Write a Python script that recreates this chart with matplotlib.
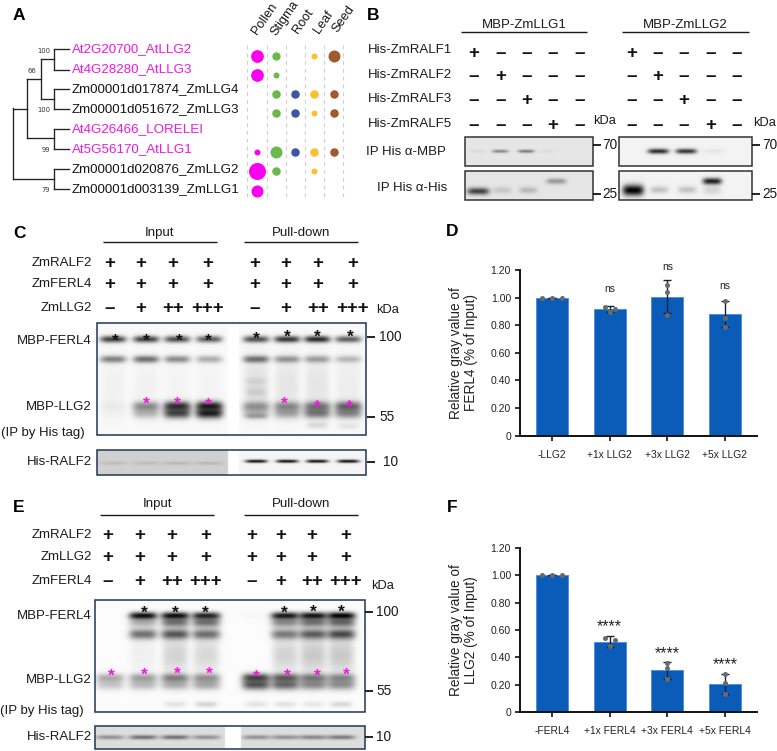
import numpy as np
import matplotlib
matplotlib.use("Agg")
import matplotlib.pyplot as plt

plt.rcParams["font.family"] = ["Liberation Sans", "DejaVu Sans"]

W, H = 777, 751
NAVY = "#1F3657"
MAGENTA = "#F016E6"
BAR = "#0A5CB8"
BAR_EDGE = "#4F93DC"
DOT = "#6A6A6A"

# ── Panel A ───────────────────────────────────────────────────────────────────
GENES = ["At2G20700_AtLLG2", "At4G28280_AtLLG3", "Zm00001d017874_ZmLLG4",
         "Zm00001d051672_ZmLLG3", "At4G26466_LORELEI", "At5G56170_AtLLG1",
         "Zm00001d020876_ZmLLG2", "Zm00001d003139_ZmLLG1"]
GENE_IS_AT = [True, True, False, False, True, True, False, False]
TISSUES = ["Pollen", "Stigma", "Root", "Leaf", "Seed"]
TISSUE_COLORS = ["#FB00F0", "#6CB84C", "#3E55A6", "#FBC02D", "#A15A2B"]
BUBBLES = [[12.7, 8.3, 0, 6, 12],
           [12.7, 6, 0, 0, 0],
           [0, 8.5, 8.5, 8.5, 8.5],
           [0, 8.5, 8.5, 6, 8.5],
           [0, 0, 0, 0, 0],
           [6, 12, 8.5, 8.5, 8.5],
           [17, 8.5, 0, 6, 0],
           [12, 0, 0, 0, 0]]

# ── Panel B ───────────────────────────────────────────────────────────────────
B_ROWS = ["His-ZmRALF1", "His-ZmRALF2", "His-ZmRALF3", "His-ZmRALF5"]
B_SIGNS = [["+", "–", "–", "–", "–"],
           ["–", "+", "–", "–", "–"],
           ["–", "–", "+", "–", "–"],
           ["–", "–", "–", "+", "–"]]
B1_MBP = [0.05, 0.42, 0.48, 0.04, 0]
B1_HIS = [0.72, 0.14, 0.2, 0.34, 0]
B2_MBP = [0, 0.82, 0.78, 0.05, 0]
B2_HIS = [1.0, 0.2, 0.2, 0.88, 0]

# ── Panel C ───────────────────────────────────────────────────────────────────
C_ROWS = ["ZmRALF2", "ZmFERL4", "ZmLLG2"]
C_SIGNS = [["+"] * 8,
           ["+"] * 8,
           ["–", "+", "++", "+++", "–", "+", "++", "+++"]]
C_100 = [0.74, 0.74, 0.68, 0.62, 0.68, 0.78, 0.84, 0.62]
C_2ND = [0.48, 0.55, 0.44, 0.3, 0.55, 0.4, 0.36, 0.25]
C_LLG_UP = [0.04, 0.42, 0.8, 0.88, 0.38, 0.42, 0.5, 0.58]
C_LLG_LOW = [0.02, 0.25, 0.72, 0.88, 0.22, 0.32, 0.5, 0.45]
C_HAZE = [0.03, 0.03, 0.02, 0.02, 0.1, 0.08, 0.08, 0.05]
C_HIS = [0.1, 0.1, 0.13, 0.12, 0.95, 0.95, 0.95, 0.95]

# ── Panel E ───────────────────────────────────────────────────────────────────
E_ROWS = ["ZmRALF2", "ZmLLG2", "ZmFERL4"]
E_SIGNS = [["+"] * 8,
           ["+"] * 8,
           ["–", "+", "++", "+++", "–", "+", "++", "+++"]]
E_100 = [0, 0.95, 0.95, 0.85, 0.02, 0.9, 0.92, 1.0]
E_TAIL = [0, 0.3, 0.55, 0.55, 0, 0.45, 0.55, 0.6]
E_2ND = [0, 0.55, 0.65, 0.55, 0, 0.5, 0.62, 0.7]
E_SMEAR = [0, 0.05, 0.16, 0.14, 0, 0.16, 0.2, 0.2]
E_LLG_UP = [0.3, 0.34, 0.46, 0.38, 0.72, 0.6, 0.48, 0.42]
E_LLG_LOW = [0.2, 0.25, 0.3, 0.32, 0.66, 0.58, 0.44, 0.42]
E_LOW = [0, 0, 0.1, 0.16, 0.1, 0.1, 0.08, 0.14]
E_HIS = [0.35, 0.5, 0.5, 0.35, 0.35, 0.35, 0.4, 0.45]

# ── Panels D and F ────────────────────────────────────────────────────────────
D_LABELS = ["-LLG2", "+1x LLG2", "+3x LLG2", "+5x LLG2"]
D_MEANS = [1.0, 0.915, 1.005, 0.88]
D_ERR = [0, 0.022, 0.12, 0.095]
D_DOTS = [[1.0, 1.0, 1.0], [0.935, 0.895, 0.915], [0.875, 1.09, 1.04], [0.855, 0.975, 0.79]]
D_NOTES = ["", "ns", "ns", "ns"]
D_NOTE_Y = [0, 1.06, 1.225, 1.085]

F_LABELS = ["-FERL4", "+1x FERL4", "+3x FERL4", "+5x FERL4"]
F_MEANS = [1.0, 0.515, 0.305, 0.205]
F_ERR = [0, 0.04, 0.06, 0.075]
F_DOTS = [[1.0, 1.0, 1.0], [0.545, 0.48, 0.53], [0.36, 0.32, 0.24], [0.28, 0.21, 0.13]]
F_NOTES = ["", "****", "****", "****"]
F_NOTE_Y = [0, 0.628, 0.428, 0.348]
Y_TICKS = [0, 0.2, 0.4, 0.6, 0.8, 1.0, 1.2]
Y_TICK_LABELS = ["0", "0.20", "0.40", "0.60", "0.80", "1.00", "1.20"]

fig = plt.figure(figsize=(W / 100, H / 100), dpi=100)
ax = fig.add_axes([0, 0, 1, 1])
ax.axis("off")


def label(x, y, s, size=9.5, ha="center", color="#1a1a1a", **kw):
    ax.text(x, y, s, fontsize=size, ha=ha, va="center", color=color, **kw)


def sign(x, y, s):
    # + and – sit about a third of an em above the baseline
    ax.text(x, y + 6.2, s, fontsize=13.5, ha="center", va="baseline", color="#111111", fontweight="bold")


def star(x, y, color="#111111"):
    ax.text(x, y + 10.5, "*", fontsize=12.5, ha="center", va="baseline", color=color, fontweight="bold")


def header(x0, x1, y_line, y_text, s):
    ax.plot([x0, x1], [y_line, y_line], color="#1a1a1a", lw=1.0, solid_capstyle="butt")
    label((x0 + x1) / 2, y_text, s)


def kda_tick(x0, y, s, text_x):
    ax.plot([x0, x0 + 8], [y, y], color="#111111", lw=1.3, solid_capstyle="butt")
    label(text_x, y, s, size=9.8, ha="left")


def row(lanes, y, hw, ht, darks):
    return [(x, y, hw, ht, d) for x, d in zip(lanes, darks)]


def blot(x0, x1, y0, y1, bands, bg=0.98, gap=None, bg2=None, edge=NAVY, spread=1.3):
    xs = np.arange(x0, x1, 0.5)
    ys = np.arange(y0, y1, 0.5)
    X, Y = np.meshgrid(xs, ys)
    keep = np.ones_like(X)
    for bx, by, hw, ht, d in bands:
        keep *= 1 - d * np.exp(-((X - bx) / hw) ** 4 - ((Y - by) / (ht * spread)) ** 2)
    base = np.full_like(X, bg)
    if bg2 is not None:
        base[X >= gap[0]] = bg2
    img = base * keep
    if gap is not None:
        img[(X >= gap[0]) & (X < gap[1])] = 1.0
    ax.imshow(img, cmap="gray", vmin=0, vmax=1, extent=(x0, x1, y1, y0), aspect="auto",
              interpolation="bilinear", zorder=1)
    ax.add_patch(plt.Rectangle((x0, y0), x1 - x0, y1 - y0, fill=False, ec=edge, lw=1.1, zorder=2))


# ── A: tree, labels and bubbles ───────────────────────────────────────────────
label(19, 15, "A", size=12.5, fontweight="bold", color="black")
row_y = [49.3, 69.5, 89.3, 109.3, 129.3, 149.3, 169.3, 189.3]
for g, at, y in zip(GENES, GENE_IS_AT, row_y):
    label(72, y, g, size=9.6, ha="left", color=MAGENTA if at else "#151515")

tree = [[(13, 108), (13, 179)], [(13, 109), (27, 109)], [(27, 79), (27, 138)],
        [(27, 79), (41, 79)], [(41, 59), (41, 99)], [(41, 59), (54, 59)],
        [(41, 99), (54, 99)], [(27, 138), (54, 138)], [(13, 179), (54, 179)]]
for (a, b) in [(49.3, 69.5), (89.3, 109.3), (129.3, 149.3), (169.3, 189.3)]:
    tree += [[(54, a), (54, b)], [(54, a), (69, a)], [(54, b), (69, b)]]
for seg in tree:
    ax.plot(*zip(*seg), color="#222222", lw=0.95, solid_capstyle="projecting")
for x, y, s in [(44, 51, "100"), (31.5, 71, "66"), (44, 110, "100"), (45.5, 150, "99"), (45.5, 190, "79")]:
    ax.text(x, y, s, fontsize=4.9, ha="center", va="center", color="#333333", family="DejaVu Sans")

for x in [247, 267, 286, 305, 324, 343]:
    ax.plot([x, x], [45, 198], color="#CFCFCF", lw=0.8, ls=(0, (3.5, 3.5)), zorder=1)
cols_x = [256.7, 275.7, 295, 314, 334]
rows_y = [55.7, 74.7, 94, 113, 132.5, 151.7, 171, 190.5]
for i, vals in enumerate(BUBBLES):
    for j, d in enumerate(vals):
        if d > 0:
            ax.scatter(cols_x[j], rows_y[i], s=(d * 0.72) ** 2, color=TISSUE_COLORS[j], lw=0, zorder=3)
for t, x, y in zip(TISSUES, [257, 276, 298, 318.5, 337.5], [35, 36.5, 34, 34, 33]):
    ax.text(x, y, t, fontsize=9.2, rotation=55, rotation_mode="anchor", ha="left", va="baseline", color="#151515")

# ── B: RALF binding blots ─────────────────────────────────────────────────────
label(373, 15, "B", size=12.5, fontweight="bold", color="black")
header(461, 587, 32, 25, "MBP-ZmLLG1")
header(622, 749, 32, 25, "MBP-ZmLLG2")
b_lanes1 = [474, 501, 527, 553, 580]
b_lanes2 = [632, 658, 684, 711, 737]
b_y = [52, 75, 98.5, 124]
for name, y, signs in zip(B_ROWS, [50, 75, 99, 124], B_SIGNS):
    label(368, y, name, ha="left")
    for x, s, in zip(b_lanes1, signs):
        sign(x, b_y[B_ROWS.index(name)], s)
    for x, s, in zip(b_lanes2, signs):
        sign(x, b_y[B_ROWS.index(name)], s)
label(605, 121, "kDa", size=9.3)
label(765, 123, "kDa", size=9.3)
label(446, 152, "IP His α-MBP", ha="right")
label(447, 188, "IP His α-His", ha="right")

b1_up_x = [477, 500, 526, 546, 580]
b1_low_x = [478, 502, 528, 556, 580]
b2_up_x = [634, 658, 686, 713, 737]
b2_low_x = [633, 659, 687, 712, 737]
blot(465, 593, 137, 166, row(b1_up_x, 151, 8, 1.6, B1_MBP), bg=0.90, edge="#333333", spread=1.0)
blot(465, 593, 171, 200, row(b1_low_x[:1], 191, 11, 3.2, B1_HIS[:1]) + row(b1_low_x[1:], 190, 9, 3, B1_HIS[1:3] + [0])
     + row(b1_low_x[3:4], 181, 10, 2.6, B1_HIS[3:4]), bg=0.90, edge="#333333", spread=1.1)
blot(619, 752, 137, 166, row(b2_up_x, 151, 10.5, 2.3, B2_MBP), bg=0.95, edge="#333333", spread=1.1)
blot(619, 752, 171, 200, row(b2_low_x[:1], 190, 10.5, 5, B2_HIS[:1]) + row(b2_low_x[1:3], 189.5, 9, 3.2, B2_HIS[1:3])
     + row(b2_low_x[3:4], 181, 9.5, 3, B2_HIS[3:4]) + row(b2_low_x[3:4], 190, 9, 4, [0.12]), bg=0.95, edge="#333333", spread=1.1)
kda_tick(593, 145, "70", 602)
kda_tick(593, 194, "25", 602)
kda_tick(752, 145, "70", 762)
kda_tick(752, 194, "25", 762)

# ── C: FERL4 pull-down with LLG2 titration ────────────────────────────────────
label(19, 233, "C", size=12.5, fontweight="bold", color="black")
header(103, 217, 242, 233, "Input")
header(244, 358, 242, 233, "Pull-down")
c_lanes = [110, 141, 173, 208, 255, 286, 318, 353]
for name, y, signs in zip(C_ROWS, [263, 284, 308], C_SIGNS):
    label(92, y, name, ha="right")
    for x, s in zip(c_lanes, signs):
        sign(x, y - 1, s)
label(388, 310, "kDa", size=9.3)
label(92, 341, "MBP-FERL4", ha="right")
label(92, 407, "MBP-LLG2", ha="right")
label(1, 433, "(IP by His tag)", ha="left")
label(92, 462, "His-RALF2", ha="right")

c_x = [113, 146, 177, 209, 256, 287, 317, 348]
c_bands = (row(c_x, 339, 13, 2.6, C_100) + row(c_x, 359, 13, 2.8, C_2ND)
           + row(c_x, 385, 12, 22, C_HAZE)
           + row(c_x, 406, 13.5, 3.8, C_LLG_UP) + row(c_x, 413, 13.5, 4, C_LLG_LOW)
           + [(256, 381, 11, 2.5, 0.08), (256, 392, 11, 3.5, 0.1), (256, 416, 11, 2, 0.25),
              (317, 425, 11, 2.4, 0.12), (348, 426, 11, 2.4, 0.08)])
blot(97, 366, 323, 435, c_bands, bg=0.975, gap=(228, 239))
c_his = row(c_x[:4], 463, 14, 1.8, C_HIS[:4]) + row(c_x[4:], 461, 11, 1.6, C_HIS[4:])
blot(97, 366, 450, 475, c_his, bg=0.82, gap=(228, 239), bg2=0.96, spread=1.0)
for x, y in [(115, 335), (146, 335), (179, 335), (208, 335), (256, 333), (287, 331), (317, 331), (350, 331)]:
    star(x, y)
for x, y in [(146, 398), (177, 398), (208, 399), (284, 398), (317, 401), (349, 401)]:
    star(x, y, MAGENTA)
kda_tick(367, 337, "100", 379)
kda_tick(367, 417, "55", 379)
kda_tick(367, 462, "10", 383)

# ── E: LLG2 pull-down with FERL4 titration ────────────────────────────────────
label(19, 507, "E", size=12.5, fontweight="bold", color="black")
header(100, 214, 514.5, 504, "Input")
header(244, 358, 514.5, 504, "Pull-down")
e_lanes = [108, 140, 172, 206, 252, 281, 312, 346]
for name, y, signs in zip(E_ROWS, [535, 557, 581], E_SIGNS):
    label(92, y, name, ha="right")
    for x, s in zip(e_lanes, signs):
        sign(x, y - 1, s)
label(383, 586, "kDa", size=9.3)
label(92, 616, "MBP-FERL4", ha="right")
label(92, 680, "MBP-LLG2", ha="right")
label(0, 711, "(IP by His tag)", ha="left")
label(92, 737, "His-RALF2", ha="right")

e_x = [110, 143, 175, 206, 256, 285, 313, 341]
e_bands = (row(e_x, 615.5, 14, 2.8, E_100) + row(e_x, 622, 14, 4, E_TAIL) + row(e_x, 634, 14, 4, E_2ND)
           + row(e_x, 655, 13, 14, E_SMEAR)
           + row(e_x, 677.5, 14, 3.4, E_LLG_UP) + row(e_x, 684.5, 14, 4, E_LLG_LOW)
           + row(e_x, 704, 11, 2.2, E_LOW))
blot(95, 365, 600, 712, e_bands, bg=0.985)
blot(95, 365, 726, 749, row(e_x, 737, 14, 2.2, E_HIS), bg=0.87, gap=(225, 241), spread=1.0)
for x, y in [(144, 607), (175, 607), (205, 607), (284, 607), (313, 606), (341, 606)]:
    star(x, y)
for x, y in [(111, 670), (144, 669), (177, 668), (209, 668), (256, 671), (287, 670), (317, 670), (346, 669)]:
    star(x, y, MAGENTA)
kda_tick(365, 612, "100", 376)
kda_tick(365, 691, "55", 376)
kda_tick(365, 737, "10", 376)

# pixel frame for the overlay
ax.set_xlim(0, W)
ax.set_ylim(H, 0)


# ── D and F: bar charts ───────────────────────────────────────────────────────
def bars(top, bottom, labels, means, errs, dots, notes, note_y, ylabel, note_size):
    a = fig.add_axes([520 / W, 1 - bottom / H, (757 - 520) / W, (bottom - top) / H])
    a.patch.set_alpha(0)
    x = np.arange(len(means))
    a.bar(x, means, width=0.55, color=BAR, edgecolor=BAR_EDGE, linewidth=0.7, zorder=2)
    a.errorbar(x, means, yerr=errs, fmt="none", ecolor="#14213D", elinewidth=1.0, capsize=3, capthick=1.0, zorder=3)
    spread = [[-0.167, 0, 0.167], [-0.087, 0, 0.087], [0, 0, 0], [0, 0, 0]]
    for i, vals in enumerate(dots):
        offs = spread[i]
        a.scatter(i + np.array(offs), vals, s=13, color=DOT, lw=0, zorder=4)
    a.set_xlim(-0.555, 3.555)
    a.set_ylim(0, 1.2)
    a.set_yticks(Y_TICKS)
    a.set_yticklabels(Y_TICK_LABELS, fontsize=7.5, color="#222222")
    a.set_xticks(x)
    a.set_xticklabels(labels, fontsize=7.4, color="#222222")
    a.tick_params(axis="both", width=1.2, length=3.5, color="#111111")
    a.tick_params(axis="x", pad=6.5)
    a.tick_params(axis="y", pad=3)
    for s in ["top", "right"]:
        a.spines[s].set_visible(False)
    for s in ["left", "bottom"]:
        a.spines[s].set_linewidth(1.4)
        a.spines[s].set_color("#111111")
    a.set_ylabel(ylabel, fontsize=9.8, color="#222222", labelpad=9, linespacing=1.1)
    for i, (n, y) in enumerate(zip(notes, note_y)):
        if n:
            a.text(i, y, n, fontsize=note_size, ha="center", va="center", color="#222222", clip_on=False)
    return a


label(452, 232, "D", size=12.5, fontweight="bold", color="black")
label(452, 507, "F", size=12.5, fontweight="bold", color="black")
bars(270, 435.7, D_LABELS, D_MEANS, D_ERR, D_DOTS, D_NOTES, D_NOTE_Y,
     "Relative gray value of\nFERL4 (% of Input)", 7.5)
bars(547.7, 712.3, F_LABELS, F_MEANS, F_ERR, F_DOTS, F_NOTES, F_NOTE_Y,
     "Relative gray value of\nLLG2 (% of Input)", 11.5)

fig.savefig("out.png", dpi=100)
